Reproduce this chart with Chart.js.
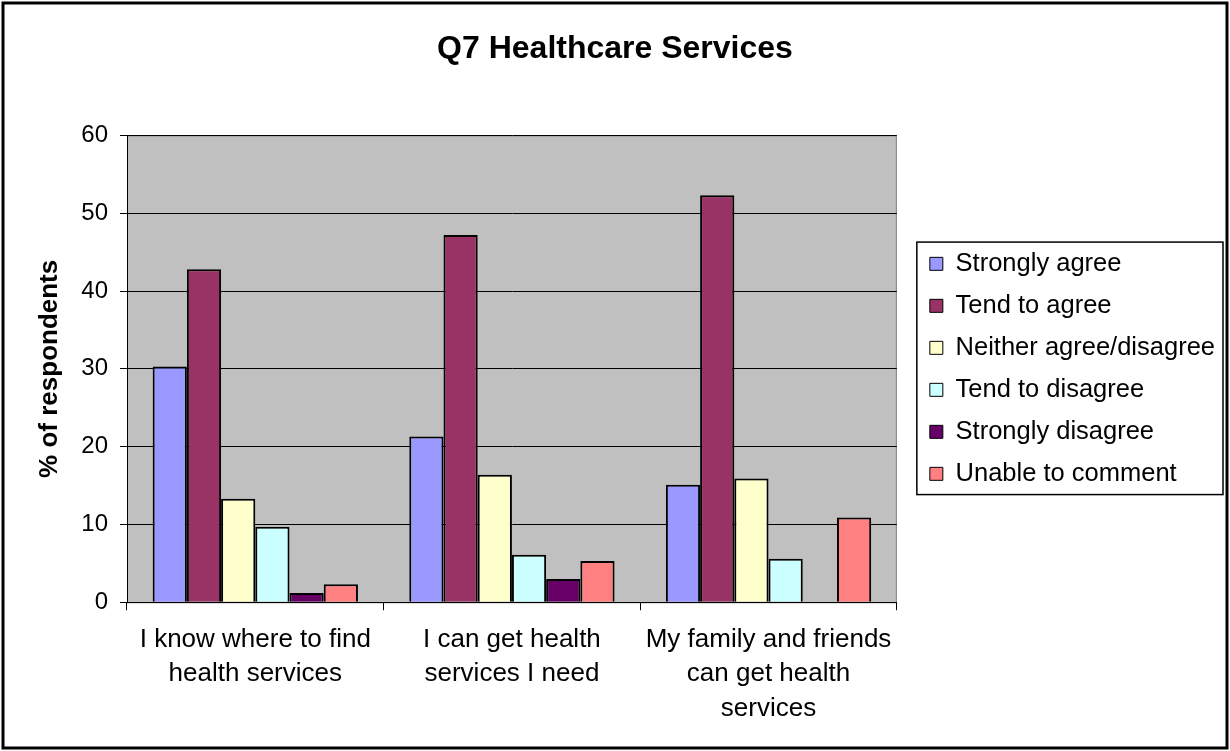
<!DOCTYPE html>
<html>
<head>
<meta charset="utf-8">
<script src="https://cdn.jsdelivr.net/npm/chart.js@4"></script>
<style>
  html, body { margin: 0; padding: 0; background: #fff; }
  #wrap { width: 1230px; height: 751px; position: relative; }
</style>
</head>
<body>
<div id="wrap"><canvas id="q7-chart"></canvas></div>
<script>
var categories = [
    ['I know where to find', 'health services'],
    ['I can get health', 'services I need'],
    ['My family and friends', 'can get health', 'services']
];
var seriesNames = ['Strongly agree', 'Tend to agree', 'Neither agree/disagree', 'Tend to disagree', 'Strongly disagree', 'Unable to comment'];
var stronglyAgree = [30.3, 21.3, 15.1];
var tendToAgree = [42.8, 47.2, 52.3];
var neither = [13.3, 16.4, 15.9];
var tendToDisagree = [9.7, 6.1, 5.6];
var stronglyDisagree = [1.2, 3.0, 0];
var unableToComment = [2.3, 5.3, 10.9];
var yTicks = [0, 10, 20, 30, 40, 50, 60];

var colours = ['#9999FF', '#993366', '#FFFFCC', '#CCFFFF', '#660066', '#FF8080'];
var values = [stronglyAgree, tendToAgree, neither, tendToDisagree, stronglyDisagree, unableToComment];
var FONT = '"Liberation Sans", Arial, sans-serif';

var frame = {
    id: 'frame',
    beforeDraw: function (chart) {
        var c = chart.ctx, a = chart.chartArea;
        c.save();
        c.fillStyle = '#fff';
        c.fillRect(0, 0, chart.width, chart.height);
        c.fillStyle = '#C0C0C0';
        c.fillRect(a.left, a.top, a.right - a.left, a.bottom - a.top);
        c.strokeStyle = '#808080';
        c.lineWidth = 1;
        c.strokeRect(a.left + 0.5, a.top + 0.5, a.right - a.left - 1, a.bottom - a.top);
        c.restore();
    },
    afterDraw: function (chart) {
        var c = chart.ctx;
        c.save();
        c.strokeStyle = '#000';
        c.lineWidth = 3;
        c.strokeRect(3, 3, chart.width - 6, chart.height - 6);
        // border round the legend
        var boxes = chart.legend.legendHitBoxes;
        if (boxes && boxes.length) {
            var last = boxes[boxes.length - 1];
            var right = 0;
            boxes.forEach(function (b) { right = Math.max(right, b.left + b.width); });
            var x0 = boxes[0].left - 13, x1 = right + 8;
            var y0 = boxes[0].top - 9, y1 = last.top + last.height + 8;
            c.lineWidth = 1.5;
            c.strokeRect(x0, y0, x1 - x0, y1 - y0);
        }
        c.restore();
    }
};

var ctx = document.getElementById('q7-chart').getContext('2d');
var chart = new Chart(ctx, {
    type: 'bar',
    data: {
        labels: categories,
        datasets: seriesNames.map(function (name, i) {
            return {
                label: name,
                data: values[i],
                backgroundColor: colours[i],
                borderColor: '#000',
                borderWidth: 2,
                categoryPercentage: 0.8,
                barPercentage: 1.0
            };
        })
    },
    options: {
        responsive: true,
        maintainAspectRatio: false,
        animation: false,
        layout: {
            padding: { left: 5, right: 5, top: 0, bottom: 13 }
        },
        plugins: {
            title: {
                display: true,
                text: 'Q7 Healthcare Services',
                color: '#000',
                font: { family: FONT, size: 32, weight: 'bold' },
                padding: { top: 30, bottom: 67 }
            },
            legend: {
                position: 'right',
                fullSize: false,
                maxWidth: 340,
                labels: {
                    color: '#000',
                    font: { family: FONT, size: 25.5 },
                    boxWidth: 13,
                    boxHeight: 13,
                    padding: 16.5,
                    generateLabels: function (chart) {
                        var items = Chart.defaults.plugins.legend.labels.generateLabels(chart);
                        items.forEach(function (it) { it.lineWidth = 1; });
                        return items;
                    }
                }
            },
            tooltip: { enabled: false }
        },
        scales: {
            x: {
                grid: {
                    drawOnChartArea: false,
                    drawTicks: true,
                    tickLength: 8,
                    color: '#000'
                },
                border: { color: '#000', width: 1 },
                ticks: {
                    color: '#000',
                    font: { family: FONT, size: 26, lineHeight: 1.33 },
                    padding: 12,
                    maxRotation: 0
                }
            },
            y: {
                min: 0,
                max: 60,
                afterBuildTicks: function (scale) {
                    scale.ticks = yTicks.map(function (v) { return { value: v }; });
                },
                afterFit: function (scale) { scale.width = 122; },
                grid: {
                    color: '#000',
                    tickLength: 7,
                    drawTicks: true
                },
                border: { color: '#000', width: 1 },
                ticks: {
                    color: '#000',
                    font: { family: FONT, size: 24 },
                    padding: 12
                },
                title: {
                    display: true,
                    text: '% of respondents',
                    color: '#000',
                    font: { family: FONT, size: 26, weight: 'bold' },
                    padding: { top: 29, bottom: 0 }
                }
            },
            // empty spacer between plot area and legend
            gap: {
                type: 'linear',
                position: 'right',
                display: true,
                grid: { display: false },
                border: { display: false },
                ticks: { display: false },
                afterFit: function (scale) { scale.width = 16.5; }
            }
        }
    },
    plugins: [frame]
});
</script>
</body>
</html>
